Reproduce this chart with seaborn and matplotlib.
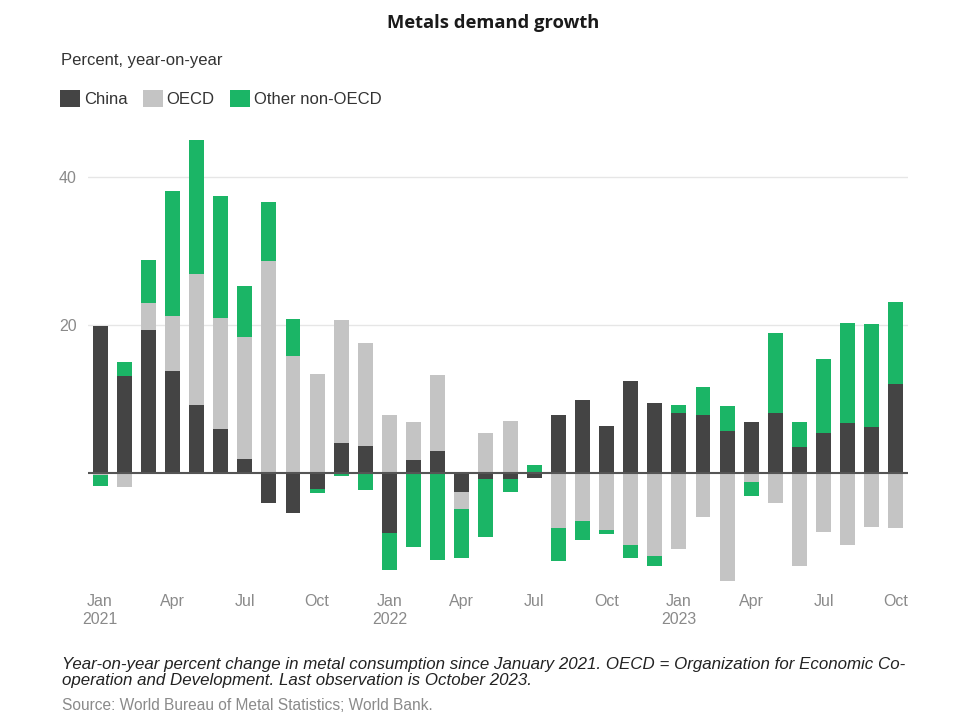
import matplotlib
matplotlib.use("Agg")
import matplotlib.pyplot as plt
import numpy as np
import pandas as pd
import seaborn as sns
from matplotlib.patches import Patch

# ---- data -------------------------------------------------------------
months = pd.date_range("2021-01-01", "2023-10-01", freq="MS")
china = [19.8, 13.0, 19.3, 13.7, 9.1, 5.95, 1.8, -4.1, -5.5, -2.25, 4.0, 3.6,
         -8.1, 1.75, 2.9, -2.6, -0.8, -0.8, -0.7, 7.85, 9.8, 6.3, 12.35, 9.45,
         8.0, 7.75, 5.6, 6.8, 8.1, 3.5, 5.35, 6.65, 6.2, 12.0]
oecd = [-0.3, -2.0, 3.6, 7.5, 17.7, 14.9, 16.5, 28.6, 15.8, 13.3, 16.6, 13.9,
        7.75, 5.1, 10.3, -2.3, 5.35, 7.0, 0.0, -7.5, -6.5, -7.8, -9.8, -11.3,
        -10.3, -6.0, -14.7, -1.2, -4.1, -12.6, -8.0, -9.8, -7.4, -7.5]
other = [-1.5, 2.0, 5.8, 16.9, 18.1, 16.5, 6.9, 8.0, 5.0, -0.45, -0.5, -2.4,
         -5.0, -10.1, -11.8, -6.7, -7.9, -1.8, 1.05, -4.4, -2.6, -0.5, -1.7, -1.3,
         1.15, 3.85, 3.45, -1.9, 10.8, 3.3, 9.95, 13.55, 13.85, 11.1]
series_names = ["China", "OECD", "Other non-OECD"]
colors = ["#444444", "#c4c4c4", "#1bb566"]
tick_months = ["Jan\n2021", "Apr", "Jul", "Oct", "Jan\n2022", "Apr", "Jul", "Oct",
               "Jan\n2023", "Apr", "Jul", "Oct"]
yticks = [20, 40]

# ---- figure -----------------------------------------------------------
sns.set_theme(style="white")
plt.rcParams["font.family"] = ["Liberation Sans", "DejaVu Sans"]

fig = plt.figure(figsize=(9.67, 7.27), dpi=100)
ax = fig.add_axes([0.091, 0.187, 0.848, 0.626])

df = pd.DataFrame({"month": months, "China": china, "OECD": oecd,
                   "Other non-OECD": other})
df["pos"] = range(len(df))
vals = df[series_names].to_numpy()
pos_part = np.clip(vals, 0, None)
neg_part = np.clip(vals, None, 0)
pos_cum = np.cumsum(pos_part, axis=1)
neg_cum = np.cumsum(neg_part, axis=1)

# draw outermost layer first so inner layers overlay (diverging stack)
for k in range(2, -1, -1):
    for cum in (pos_cum, neg_cum):
        d = pd.DataFrame({"pos": df["pos"], "v": cum[:, k]})
        sns.barplot(data=d, x="pos", y="v", color=colors[k], width=0.62,
                    errorbar=None, ax=ax, saturation=1, native_scale=True,
                    edgecolor="none", linewidth=0)

ax.axhline(0, color="#555555", lw=1.5, zorder=5)
ax.set_xlim(-0.5, len(df) - 0.5)
ax.set_ylim(-16, 45.5)
ax.set_yticks(yticks)
ax.set_yticklabels([str(t) for t in yticks])
ax.set_xticks(np.arange(0, len(df), 3))
ax.set_xticklabels(tick_months)
for lab in ax.get_xticklabels():
    lab.set_linespacing(1.3)
ax.set_xlabel("")
ax.set_ylabel("")
ax.grid(axis="y", color="#e6e6e6", lw=1)
ax.grid(axis="x", visible=False)
ax.set_axisbelow(True)
for s in ax.spines.values():
    s.set_visible(False)
ax.tick_params(axis="both", length=0, labelsize=11.5, colors="#8a8a8a")
ax.tick_params(axis="y", pad=8)
ax.tick_params(axis="x", pad=2)

# ---- texts ------------------------------------------------------------
fig.text(493 / 967, 1 - 27.5 / 727, "Metals demand growth", ha="center", va="baseline",
         fontsize=13.2, fontweight="bold", family="Open Sans", color="#1a1a1a")
fig.text(61 / 967, 1 - 60 / 727, "Percent, year-on-year", ha="left", va="center",
         fontsize=12, color="#333333")
handles = [Patch(facecolor=c, edgecolor="none") for c in colors]
fig.legend(handles, series_names, loc="center left",
           bbox_to_anchor=(60 / 967, 1 - 98.5 / 727), ncol=3, frameon=False,
           fontsize=12, handlelength=1.22, handleheight=1.25,
           handletextpad=0.22, columnspacing=0.9, borderaxespad=0,
           borderpad=0, labelcolor="#333333")
fig.text(62 / 967, 1 - 672.5 / 727,
         "Year-on-year percent change in metal consumption since January 2021. "
         "OECD = Organization for Economic Co-\noperation and Development. "
         "Last observation is October 2023.",
         ha="left", va="center", fontsize=12.2, style="italic",
         color="#222222", linespacing=1.1)
fig.text(62 / 967, 1 - 705 / 727, "Source: World Bureau of Metal Statistics; World Bank.",
         ha="left", va="center", fontsize=11.2, color="#8a8a8a")

fig.savefig("out.png", dpi=100)
